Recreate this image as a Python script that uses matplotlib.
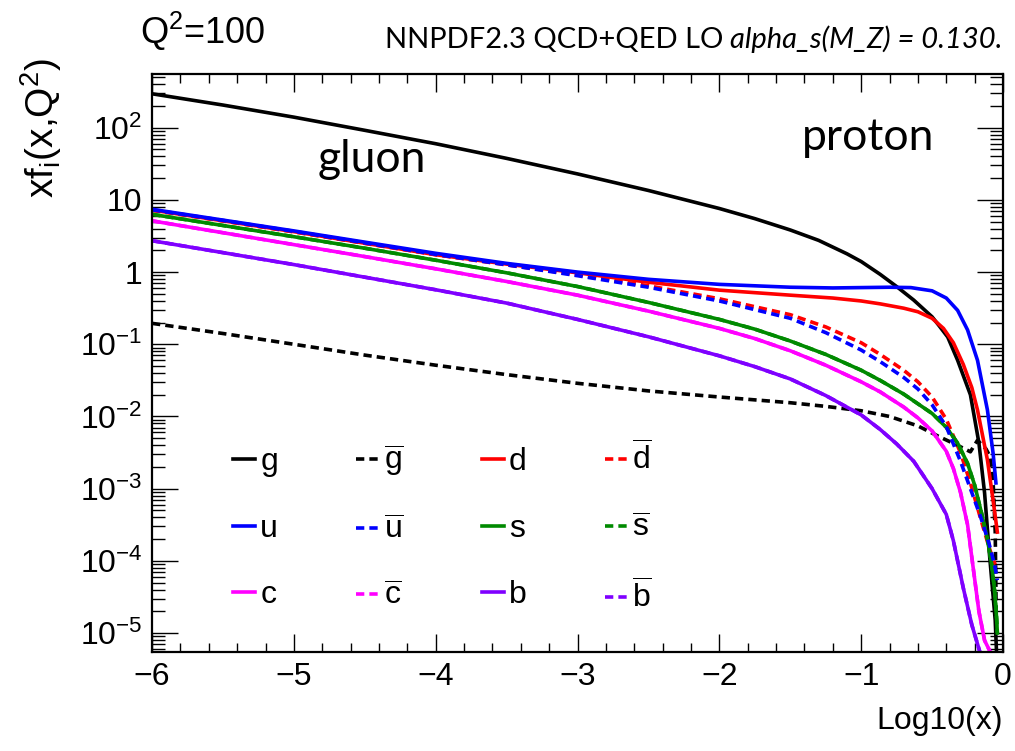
import numpy as np
import matplotlib
matplotlib.use('Agg')
import matplotlib.pyplot as plt
from matplotlib import font_manager
from matplotlib.ticker import FixedLocator, FuncFormatter, MultipleLocator, NullFormatter

# ---- values: log10(x) and x*f(x,Q^2) ----
g_x = [-6, -5.5, -5, -4.5, -4, -3.5, -3, -2.5, -2, -1.75, -1.5, -1.3, -1.1, -1, -0.866,
       -0.75, -0.63, -0.5, -0.45, -0.39, -0.32, -0.23, -0.17, -0.13, -0.10, -0.055, -0.045]
g_y = [295, 206, 140, 92, 60, 37.6, 22.9, 13.5, 7.6, 5.5, 3.83, 2.75, 1.79, 1.40, 0.93,
       0.63, 0.41, 0.24, 0.18, 0.126, 0.060, 0.020, 0.0043, 8.7e-4, 1.55e-4, 1.5e-5, 5e-6]

gbar_x = [-6, -5.5, -5, -4.5, -4, -3.5, -3, -2.5, -2, -1.5, -1.25, -1, -0.8, -0.6, -0.45,
          -0.32, -0.23, -0.18, -0.12, -0.09, -0.07, -0.055, -0.047]
gbar_y = [0.195, 0.141, 0.1, 0.0708, 0.0513, 0.038, 0.0288, 0.0226, 0.0186, 0.0155, 0.0138,
          0.012, 0.01, 0.0074, 0.00525, 0.00398, 0.00324, 0.00468, 0.00355, 0.00275, 0.00126,
          2.5e-4, 1.26e-5]

u_x = [-6, -5.5, -5, -4.5, -4, -3.5, -3, -2.5, -2, -1.5, -1.2, -1, -0.8, -0.65, -0.5, -0.4,
       -0.32, -0.25, -0.18, -0.11, -0.07, -0.05]
u_y = [7.41, 5.25, 3.72, 2.60, 1.82, 1.32, 1.0, 0.794, 0.676, 0.617, 0.603, 0.610, 0.617,
       0.610, 0.550, 0.437, 0.295, 0.158, 0.060, 0.0123, 0.0031, 0.0012]

ubar_x = [-6, -5.5, -5, -4.5, -4, -3.5, -3, -2.5, -2, -1.5, -1.25, -1.0, -0.866, -0.7, -0.6,
          -0.5, -0.4, -0.3, -0.23, -0.16, -0.1, -0.06, -0.04]
ubar_y = [7.3, 5.2, 3.67, 2.54, 1.76, 1.26, 0.891, 0.617, 0.398, 0.229, 0.145, 0.0832,
          0.0575, 0.0347, 0.024, 0.0145, 0.00724, 0.0024, 0.001, 4.17e-4, 1.78e-4, 8.9e-5, 5.4e-5]

d_x = [-6, -5.5, -5, -4.5, -4, -3.5, -3, -2.5, -2, -1.5, -1.2, -1, -0.866, -0.7, -0.6, -0.5,
       -0.42, -0.35, -0.28, -0.22, -0.18, -0.11, -0.07, -0.04]
d_y = [7.24, 5.13, 3.63, 2.51, 1.74, 1.29, 0.977, 0.724, 0.562, 0.479, 0.437, 0.398, 0.363,
       0.316, 0.282, 0.229, 0.166, 0.105, 0.0525, 0.0251, 0.0123, 0.0025, 6.9e-4, 2.5e-4]

dbar_x = [-6, -5.5, -5, -4.5, -4, -3.5, -3, -2.5, -2, -1.5, -1.25, -1.0, -0.866, -0.7, -0.6,
          -0.5, -0.4, -0.3, -0.23, -0.16, -0.1, -0.07, -0.055]
dbar_y = [7.2, 5.1, 3.6, 2.5, 1.74, 1.26, 0.912, 0.646, 0.427, 0.257, 0.174, 0.105, 0.0724,
          0.0437, 0.0302, 0.0186, 0.00912, 0.00316, 0.0012, 3.98e-4, 1.58e-4, 1.05e-4, 8.9e-5]

s_x = [-6, -5.5, -5, -4.5, -4, -3.5, -3, -2.5, -2, -1.75, -1.5, -1.25, -1, -0.866, -0.7,
       -0.5, -0.4, -0.32, -0.25, -0.2, -0.15, -0.11, -0.08, -0.06, -0.045, -0.04]
s_y = [6.31, 4.42, 3.09, 2.14, 1.46, 0.977, 0.631, 0.380, 0.221, 0.162, 0.111, 0.0724, 0.0437,
       0.0316, 0.0204, 0.011, 0.00708, 0.00427, 0.00224, 0.00112, 4.47e-4, 2.0e-4, 8.9e-5,
       4.0e-5, 1.58e-5, 1.0e-5]

c_x = [-6, -5.5, -5, -4.5, -4, -3.5, -3, -2.5, -2, -1.75, -1.5, -1.25, -1, -0.866, -0.7, -0.6,
       -0.5, -0.4, -0.35, -0.3, -0.25, -0.21, -0.17, -0.13, -0.08]
c_y = [5.13, 3.51, 2.40, 1.64, 1.11, 0.741, 0.479, 0.288, 0.166, 0.120, 0.0813, 0.0513,
       0.0302, 0.0219, 0.0135, 0.00955, 0.0063, 0.0033, 0.0019, 8.9e-4, 3.16e-4, 7.9e-5,
       2.0e-5, 7.9e-6, 5.0e-6]

b_x = [-6, -5.5, -5, -4.5, -4, -3.5, -3, -2.5, -2, -1.75, -1.5, -1.25, -1, -0.866, -0.75,
       -0.63, -0.5, -0.4, -0.35, -0.28, -0.22, -0.16]
b_y = [2.72, 1.86, 1.27, 0.85, 0.569, 0.372, 0.221, 0.127, 0.0692, 0.049, 0.0331, 0.0195,
       0.0105, 0.0066, 0.00417, 0.0024, 0.001, 4.4e-4, 1.9e-4, 4.2e-5, 1.3e-5, 5.2e-6]

# strange, charm and bottom antiquarks sit on top of the quarks
sbar_x, sbar_y = s_x, s_y
cbar_x, cbar_y = c_x, c_y
bbar_x, bbar_y = b_x, b_y

# ---- fonts ----
names = {f.name for f in font_manager.fontManager.ttflist}
root_font = 'Liberation Sans' if 'Liberation Sans' in names else 'DejaVu Sans'
note_font = 'Lato' if 'Lato' in names else root_font
plt.rcParams['font.family'] = [root_font, 'DejaVu Sans']
plt.rcParams['mathtext.fontset'] = 'custom'
plt.rcParams['mathtext.rm'] = root_font
plt.rcParams['mathtext.it'] = root_font + ':italic'
plt.rcParams['mathtext.default'] = 'rm'

fig = plt.figure(figsize=(10.15, 7.51), dpi=100)
ax = fig.add_axes([0.1498, 0.1318, 0.8384, 0.7697])

lw = 2.6
dash = (2.3, 1.4)
black, red, blue = '#000000', '#ff0000', '#0000ff'
green, magenta, violet = '#008a00', '#ff00ff', '#7f00ff'

h = {}
h['g'], = ax.plot(g_x, g_y, color=black, lw=lw)
h['gbar'], = ax.plot(gbar_x, gbar_y, color=black, lw=lw, dashes=dash)
h['d'], = ax.plot(d_x, d_y, color=red, lw=lw)
h['dbar'], = ax.plot(dbar_x, dbar_y, color=red, lw=lw, dashes=dash)
h['s'], = ax.plot(s_x, s_y, color=green, lw=lw)
h['sbar'], = ax.plot(sbar_x, sbar_y, color=green, lw=lw, dashes=dash)
h['c'], = ax.plot(c_x, c_y, color=magenta, lw=lw)
h['cbar'], = ax.plot(cbar_x, cbar_y, color=magenta, lw=lw, dashes=dash)
h['b'], = ax.plot(b_x, b_y, color=violet, lw=lw)
h['bbar'], = ax.plot(bbar_x, bbar_y, color=violet, lw=lw, dashes=dash)
h['u'], = ax.plot(u_x, u_y, color=blue, lw=lw)
h['ubar'], = ax.plot(ubar_x, ubar_y, color=blue, lw=lw, dashes=dash)

ax.set_yscale('log')
ax.set_xlim(-6, 0)
ax.set_ylim(5.46e-6, 555)

# ROOT-like axes: ticks inside, on all four sides
for sp in ax.spines.values():
    sp.set_linewidth(1.6)
ax.xaxis.set_major_locator(MultipleLocator(1))
ax.xaxis.set_minor_locator(MultipleLocator(0.2))
ax.yaxis.set_major_locator(FixedLocator([10.0 ** k for k in range(-5, 3)]))
ax.yaxis.set_minor_locator(FixedLocator([m * 10.0 ** k for k in range(-6, 3) for m in range(2, 10)]))
ax.yaxis.set_minor_formatter(NullFormatter())


def ylab(v, pos):
    k = int(round(np.log10(v)))
    if k == 0:
        return '1'
    if k == 1:
        return '10'
    return r'$10^{%d}$' % k


ax.yaxis.set_major_formatter(FuncFormatter(ylab))
ax.tick_params(axis='both', which='both', direction='in', top=True, right=True, width=1.0, pad=7)
ax.tick_params(axis='x', which='major', length=13, labelsize=23)
ax.tick_params(axis='x', which='minor', length=6.5)
ax.tick_params(axis='y', which='major', length=18.5, labelsize=23)
ax.tick_params(axis='y', which='minor', length=9.5)

ax.set_xlabel('Log10(x)', fontsize=23, loc='right')
ax.xaxis.set_label_coords(1.0, -0.093)
ax.set_ylabel(r'xf$_{\rm i}$(x,Q$^{2}$)', fontsize=28, loc='top')
ax.yaxis.set_label_coords(-0.104, 1.028)

fig.text(0.138, 0.942, r'Q$^{2}$=100', fontsize=26)
t2 = fig.text(0.988, 0.936, 'alpha_s(M_Z) = 0.130.', fontsize=21, family=note_font,
              style='italic', ha='right')
fig.texts.append(plt.Annotation('NNPDF2.3 QCD+QED LO', xy=(0, 0), xycoords=t2,
                                xytext=(-5, 0), textcoords='offset points',
                                ha='right', va='bottom', fontsize=21, family=note_font))
fig.texts[-1].set_figure(fig)

ax.text(0.195, 0.83, 'gluon', transform=ax.transAxes, fontsize=32, family=note_font)
ax.text(0.764, 0.868, 'proton', transform=ax.transAxes, fontsize=32, family=note_font)

order = ['g', 'u', 'c', 'gbar', 'ubar', 'cbar', 'd', 's', 'b', 'dbar', 'sbar', 'bbar']
labels = {k: (r'$\overline{\mathrm{%s}}$' % k[0] if k.endswith('bar') else k) for k in order}
ax.legend([h[k] for k in order], [labels[k] for k in order], ncol=4, frameon=False,
          loc='upper left', bbox_to_anchor=(0.0952, 0.363), borderpad=0, borderaxespad=0,
          fontsize=23, handlelength=0.69, handletextpad=0.16, columnspacing=2.45,
          labelspacing=1.14)

fig.savefig('out.png', dpi=100)
